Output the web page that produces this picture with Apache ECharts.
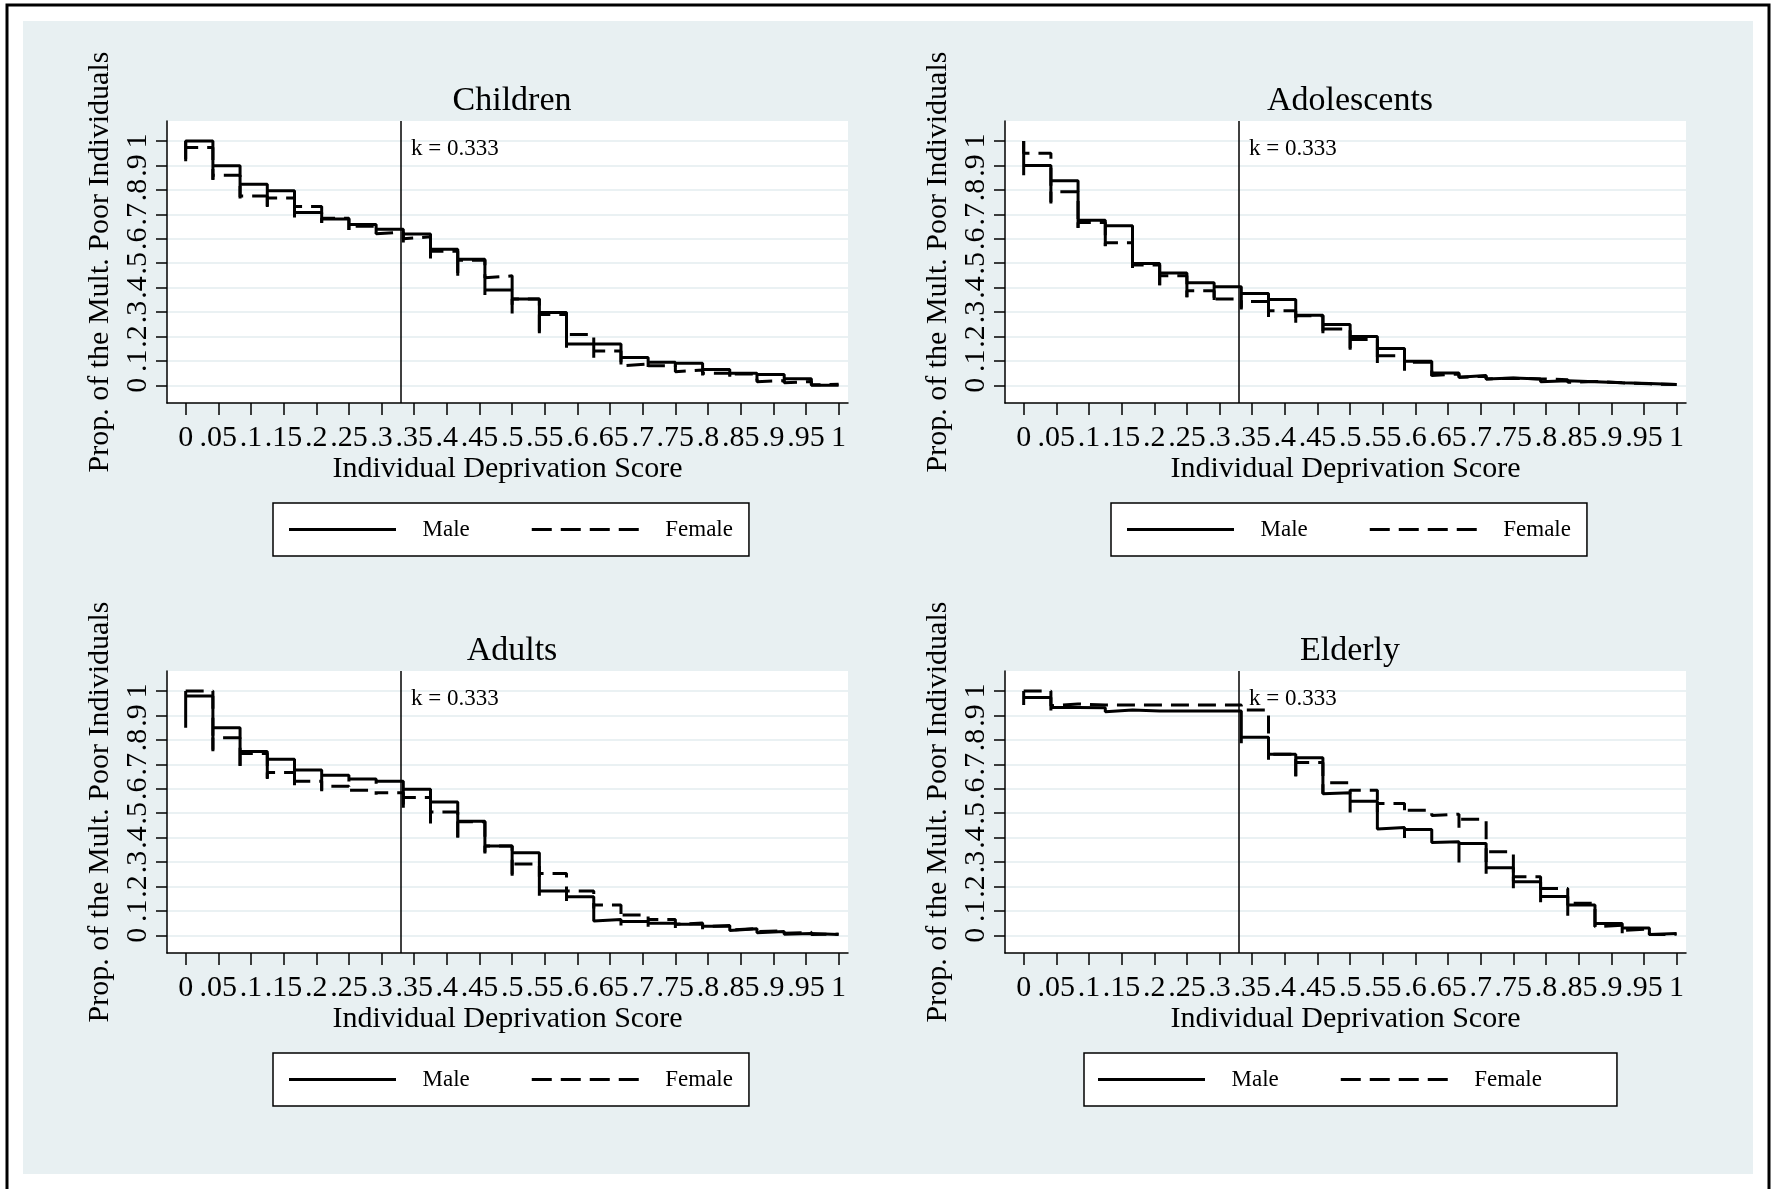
<!DOCTYPE html>
<html>
<head>
<meta charset="utf-8">
<script src="https://cdn.jsdelivr.net/npm/echarts@6/dist/echarts.min.js"></script>
<style>
html, body { margin: 0; padding: 0; background: #fff; }
#main { width: 1775px; height: 1189px; }
</style>
</head>
<body>
<div id="main"></div>
<script>
// deprivation score grid where the curves step (every 1/24)
var scoreSteps = [0, 0.0417, 0.0833, 0.125, 0.1667, 0.2083, 0.25, 0.2917, 0.3333, 0.375, 0.4167, 0.4583,
    0.5, 0.5417, 0.5833, 0.625, 0.6667, 0.7083, 0.75, 0.7917, 0.8333, 0.875, 0.9167, 0.9583, 1];

// level after each step, and how far the vertical drop reaches at that step
var childrenMale      = [1.0, .899, .823, .796, .707, .681, .658, .639, .619, .557, .516, .39, .353, .298, .169, .169, .114, .094, .09, .065, .049, .044, .027, 0];
var childrenMaleLow   = [.917, .842, .771, .73, .687, .664, .636, .622, .585, .519, .448, .37, .294, .213, .154, .169, .085, .08, .075, .05, .035, .02, .01, 0];
var childrenFemale    = [.973, .86, .775, .767, .732, .684, .651, .628, .608, .549, .512, .448, .353, .29, .208, .14, .087, .08, .063, .049, .046, .019, .016, .004];
var childrenFemaleLow = [.92, .84, .765, .73, .69, .665, .636, .62, .60, .53, .46, .44, .33, .22, .16, .099, .08, .07, .055, .04, .035, .015, .01, .002];

var adolMale      = [.90, .837, .676, .653, .499, .46, .42, .403, .376, .351, .287, .249, .20, .151, .098, .05, .04, .03, .026, .019, .015, .01, .007, .003];
var adolMaleLow   = [.86, .744, .644, .569, .481, .41, .36, .349, .317, .29, .256, .213, .146, .091, .06, .037, .033, .026, .022, .015, .012, .008, .005, .002];
var adolFemale    = [.95, .792, .666, .584, .492, .448, .387, .353, .343, .305, .285, .23, .187, .121, .094, .046, .037, .029, .026, .023, .016, .01, .006, .003];
var adolFemaleLow = [.95, .75, .644, .57, .48, .41, .36, .34, .31, .28, .26, .21, .15, .10, .07, .04, .033, .026, .022, .018, .012, .008, .004, .002];

var adultMale      = [.98, .85, .752, .721, .677, .655, .64, .631, .598, .546, .467, .366, .338, .181, .158, .065, .056, .049, .045, .037, .027, .016, .007, .003];
var adultMaleLow   = [.85, .753, .693, .644, .614, .594, .63, .62, .522, .458, .40, .335, .244, .162, .14, .059, .04, .035, .03, .025, .02, .01, .004, .002];
var adultFemale    = [1.0, .809, .744, .666, .631, .61, .594, .584, .564, .505, .465, .366, .292, .253, .181, .124, .083, .065, .05, .04, .027, .019, .012, .005];
var adultFemaleLow = [1.0, .76, .69, .64, .61, .59, .585, .575, .52, .46, .40, .34, .25, .24, .16, .11, .07, .055, .045, .035, .022, .015, .008, .003];

var elderMale      = [.973, .933, .932, .922, .918, .918, .918, .918, .811, .741, .727, .584, .549, .441, .433, .383, .376, .277, .219, .159, .124, .048, .03, .007];
var elderMaleLow   = [.943, .92, .925, .915, .915, .918, .918, .918, .786, .72, .652, .579, .503, .435, .398, .38, .298, .252, .193, .135, .08, .035, .008, .003];
var elderFemale    = [1.0, .947, .943, .943, .943, .943, .943, .943, .922, .741, .707, .625, .594, .54, .512, .496, .475, .342, .24, .192, .131, .041, .026, .004];
var elderFemaleLow = [1.0, .94, .94, .943, .943, .943, .943, .943, .922, .72, .65, .58, .58, .505, .50, .49, .44, .30, .22, .17, .12, .035, .02, .003];

var xTicks = [0, .05, .1, .15, .2, .25, .3, .35, .4, .45, .5, .55, .6, .65, .7, .75, .8, .85, .9, .95, 1];
var xTickLabels = ['0', '.05', '.1', '.15', '.2', '.25', '.3', '.35', '.4', '.45', '.5', '.55', '.6', '.65', '.7', '.75', '.8', '.85', '.9', '.95', '1'];
var yTicks = [0, .1, .2, .3, .4, .5, .6, .7, .8, .9, 1];
var yTickLabels = ['0', '.1', '.2', '.3', '.4', '.5', '.6', '.7', '.8', '.9', '1'];
var kCutoff = 0.333;

var panelTitles = ['Children', 'Adolescents', 'Adults', 'Elderly'];
var panelMale = [childrenMale, adolMale, adultMale, elderMale];
var panelMaleLow = [childrenMaleLow, adolMaleLow, adultMaleLow, elderMaleLow];
var panelFemale = [childrenFemale, adolFemale, adultFemale, elderFemale];
var panelFemaleLow = [childrenFemaleLow, adolFemaleLow, adultFemaleLow, elderFemaleLow];

var serif = 'Liberation Serif';

// legend keys drawn as plain line pieces (the default line icon adds a dot)
var solidKey = 'path://M0,0H107V3H0Z';
var dashedKey = 'path://M0,0h20v3h-20z M29,0h20v3h-20z M58,0h20v3h-20z M87,0h20v3h-20z';

// step curve: at each score drop to the low, come back to the level, run flat to the next score
function stairs(levels, lows) {
    var pts = [[scoreSteps[0], 1]];
    for (var i = 0; i < levels.length; i++) {
        pts.push([scoreSteps[i], lows[i]]);
        pts.push([scoreSteps[i], levels[i]]);
        pts.push([scoreSteps[i + 1], levels[i]]);
    }
    return pts;
}

function labelFrom(ticks, labels) {
    return function (v) {
        for (var j = 0; j < ticks.length; j++) {
            if (Math.abs(ticks[j] - v) < 1e-6) return labels[j];
        }
        return '';
    };
}

var offX = [0, 838, 0, 838];
var offY = [0, 0, 550, 550];
var legendLeft = [273, 1111, 273, 1084];

var grids = [], xAxes = [], yAxes = [], series = [], legends = [], texts = [];

// page frame and light bluish graph region
texts.push({
    type: 'rect', z: -100, silent: true,
    shape: { x: 7, y: 5, width: 1762, height: 1200 },
    style: { fill: '#fff', stroke: '#000', lineWidth: 3 }
});
texts.push({
    type: 'rect', z: -99, silent: true,
    shape: { x: 23, y: 21, width: 1730, height: 1153 },
    style: { fill: '#e8f0f2' }
});

for (var p = 0; p < 4; p++) {
    var dx = offX[p], dy = offY[p];
    grids.push({
        left: 167 + dx, top: 121 + dy, width: 681, height: 282,
        show: true, backgroundColor: '#fff', borderWidth: 0
    });
    xAxes.push({
        gridIndex: p, type: 'value', min: -0.0286, max: 1.0144,
        name: 'Individual Deprivation Score', nameLocation: 'middle', nameGap: 45,
        nameTextStyle: { fontFamily: serif, fontSize: 30, color: '#000' },
        axisLine: { onZero: false, lineStyle: { color: '#000', width: 1.5 } },
        axisTick: { customValues: xTicks, length: 12, lineStyle: { color: '#000', width: 1.5 } },
        axisLabel: { customValues: xTicks, interval: 0, margin: 20, fontFamily: serif, fontSize: 30,
            color: '#000', formatter: labelFrom(xTicks, xTickLabels) },
        splitLine: { show: false }
    });
    yAxes.push({
        gridIndex: p, type: 'value', min: -0.0725, max: 1.082,
        name: 'Prop. of the Mult. Poor Individuals', nameLocation: 'middle', nameGap: 52,
        nameTextStyle: { fontFamily: serif, fontSize: 30, color: '#000' },
        axisLine: { onZero: false, lineStyle: { color: '#000', width: 1.5 } },
        axisTick: { customValues: yTicks, length: 11, lineStyle: { color: '#000', width: 1.5 } },
        axisLabel: { customValues: yTicks, interval: 0, rotate: 90, margin: 14, fontFamily: serif, fontSize: 30,
            color: '#000', formatter: labelFrom(yTicks, yTickLabels) },
        splitLine: { show: true, lineStyle: { color: '#e3ecef', width: 1.5 } }
    });
    series.push({
        name: 'Male', type: 'line', xAxisIndex: p, yAxisIndex: p,
        data: stairs(panelMale[p], panelMaleLow[p]),
        symbol: 'none', lineStyle: { color: '#000', width: 3 }, itemStyle: { color: '#000' },
        markLine: {
            silent: true, symbol: 'none', label: { show: false },
            lineStyle: { color: '#000', width: 1.5, type: 'solid' },
            data: [{ xAxis: kCutoff }]
        },
        markPoint: {
            symbol: 'circle', symbolSize: 0, silent: true,
            label: { show: true, position: 'right', distance: 8, offset: [0, 8],
                formatter: 'k = ' + kCutoff, fontFamily: serif, fontSize: 23, color: '#000' },
            data: [{ coord: [kCutoff, 1] }]
        }
    });
    series.push({
        name: 'Female', type: 'line', xAxisIndex: p, yAxisIndex: p,
        data: stairs(panelFemale[p], panelFemaleLow[p]),
        symbol: 'none', lineStyle: { color: '#000', width: 3, type: [18, 9] }, itemStyle: { color: '#000' }
    });
    legends.push({
        data: [{ name: 'Male', icon: solidKey }, { name: 'Female', icon: dashedKey }],
        selectedMode: false,
        left: legendLeft[p], top: 503 + dy,
        itemWidth: 110, itemHeight: 3, itemGap: 62,
        padding: p === 3 ? [15, 75, 15, 14] : [15, 16, 15, 16],
        borderColor: '#000', borderWidth: 1.5, backgroundColor: '#fff',
        itemStyle: { color: '#000' },
        textStyle: { fontFamily: serif, fontSize: 23, color: '#000', padding: [0, 0, 0, 20] }
    });
    texts.push({
        type: 'text', x: 512 + dx, y: 101 + dy,
        style: { text: panelTitles[p], fontFamily: serif, fontSize: 34, fill: '#000',
            align: 'center', verticalAlign: 'middle', textAlign: 'center', textVerticalAlign: 'middle' }
    });
}

var chart = echarts.init(document.getElementById('main'));
chart.setOption({
    animation: false,
    backgroundColor: '#fff',
    graphic: { elements: texts },
    grid: grids,
    xAxis: xAxes,
    yAxis: yAxes,
    legend: legends,
    series: series
});
</script>
</body>
</html>
